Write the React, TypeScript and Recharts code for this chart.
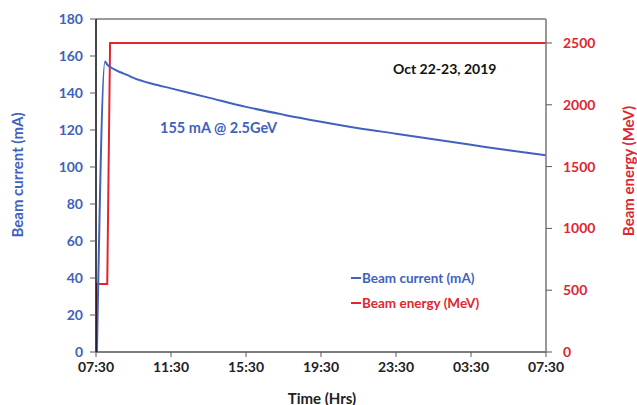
import { LineChart, Line, XAxis, YAxis, CartesianGrid, ReferenceLine, Label } from "recharts";

// hours after 07:30 on Oct 22
const currentHours = [0.05, 0.48, 0.6, 0.8, 1.0, 1.3, 1.65, 2, 3, 4, 6, 8, 10, 12, 14, 16, 18, 20, 22, 24];
const currentMA = [0, 157, 155.3, 153.8, 152.6, 151.2, 149.8, 148.2, 145, 142.5, 137.5, 132.5, 128.3, 124.5, 121, 118, 115, 112, 109, 106.3];

const energyHours = [0, 0.01, 0.6, 0.75, 24];
const energyMeV = [0, 550, 550, 2500, 2500];

const timeTicks = [0, 4, 8, 12, 16, 20, 24];
const timeLabels = ["07:30", "11:30", "15:30", "19:30", "23:30", "03:30", "07:30"];
const currentTicks = [0, 20, 40, 60, 80, 100, 120, 140, 160, 180];
const energyTicks = [0, 500, 1000, 1500, 2000, 2500];

const BLUE = "#4062bd";
const RED = "#e0262f";
const FONT = "Lato, 'Open Sans', sans-serif";

const currentData = currentHours.map((t, i) => ({ t, current: currentMA[i] }));
const energyData = energyHours.map((t, i) => ({ t, energy: energyMeV[i] }));

const legendItems = [
  { name: "Beam current (mA)", color: BLUE },
  { name: "Beam energy (MeV)", color: RED },
];

function LegendBox() {
  return (
    <div style={{ position: "absolute", left: 351, top: 265, fontFamily: FONT, fontWeight: 700, fontSize: 13.5 }}>
      {legendItems.map((it) => (
        <div key={it.name} style={{ display: "flex", alignItems: "center", height: 25, color: it.color, whiteSpace: "nowrap" }}>
          <span style={{ display: "inline-block", width: 10, height: 2, background: it.color, marginRight: 1 }} />
          {it.name}
        </div>
      ))}
    </div>
  );
}

export default function App() {
  return (
    <div style={{ position: "absolute", left: 0, top: 0, width: 637, height: 405, background: "#fff", fontFamily: FONT, overflow: "hidden" }}>
      <LineChart width={637} height={405} margin={{ top: 19, right: 0, bottom: 0, left: 0 }}>
        <CartesianGrid stroke="#d9d9d9" strokeWidth={1.2} />
        <XAxis
          xAxisId="t"
          type="number"
          dataKey="t"
          domain={[0, 24]}
          ticks={timeTicks}
          tickFormatter={(v) => timeLabels[timeTicks.indexOf(v)]}
          height={53}
          axisLine={{ stroke: "#595959", strokeWidth: 1.5 }}
          tickLine={{ stroke: "#595959" }}
          tickSize={5}
          tick={{ fill: "#222", fontSize: 14, fontWeight: 700, fontFamily: FONT }}
          tickMargin={5}
          allowDataOverflow
        >
          <Label
            content={() => (
              <text x={322} y={404} textAnchor="middle" fill="#222" fontSize={15} fontWeight={700} fontFamily={FONT}>
                Time (Hrs)
              </text>
            )}
          />
        </XAxis>
        <YAxis
          yAxisId="ma"
          orientation="left"
          width={96}
          domain={[0, 180]}
          ticks={currentTicks}
          axisLine={{ stroke: "#111", strokeWidth: 1.5 }}
          tickLine={{ stroke: "#595959" }}
          tickSize={6}
          tickMargin={7}
          tick={{ fill: BLUE, fontSize: 14, fontWeight: 700, fontFamily: FONT }}
        >
          <Label
            content={() => (
              <text x={23} y={175} transform="rotate(-90 23 175)" textAnchor="middle" fill={BLUE} fontSize={15} fontWeight={700} fontFamily={FONT}>
                Beam current (mA)
              </text>
            )}
          />
        </YAxis>
        <YAxis
          yAxisId="mev"
          orientation="right"
          width={91}
          domain={[0, 2694]}
          ticks={energyTicks}
          axisLine={{ stroke: "#7f7f7f", strokeWidth: 1.5 }}
          tickLine={{ stroke: "#595959" }}
          tickSize={6}
          tickMargin={11}
          tick={{ fill: RED, fontSize: 14, fontWeight: 700, fontFamily: FONT, textAnchor: "start" }}
          allowDataOverflow
        >
          <Label
            content={() => (
              <text x={634} y={171} transform="rotate(-90 634 171)" textAnchor="middle" fill={RED} fontSize={15} fontWeight={700} fontFamily={FONT}>
                Beam energy (MeV)
              </text>
            )}
          />
        </YAxis>
        <ReferenceLine xAxisId="t" yAxisId="ma" y={180} stroke="#7f7f7f" strokeWidth={1.5} />
        <Line
          xAxisId="t"
          yAxisId="mev"
          data={energyData}
          dataKey="energy"
          type="linear"
          stroke={RED}
          strokeWidth={2}
          dot={false}
          isAnimationActive={false}
          name="Beam energy (MeV)"
        />
        <Line
          xAxisId="t"
          yAxisId="ma"
          data={currentData}
          dataKey="current"
          type="monotone"
          stroke={BLUE}
          strokeWidth={2}
          dot={false}
          isAnimationActive={false}
          name="Beam current (mA)"
        />
      </LineChart>
      <LegendBox />
      <div style={{ position: "absolute", left: 160, top: 119, color: BLUE, fontSize: 14.5, fontWeight: 700, whiteSpace: "nowrap" }}>
        155 mA @ 2.5GeV
      </div>
      <div style={{ position: "absolute", left: 393, top: 60, color: "#111", fontSize: 14, fontWeight: 700, whiteSpace: "nowrap" }}>
        Oct 22-23, 2019
      </div>
    </div>
  );
}
